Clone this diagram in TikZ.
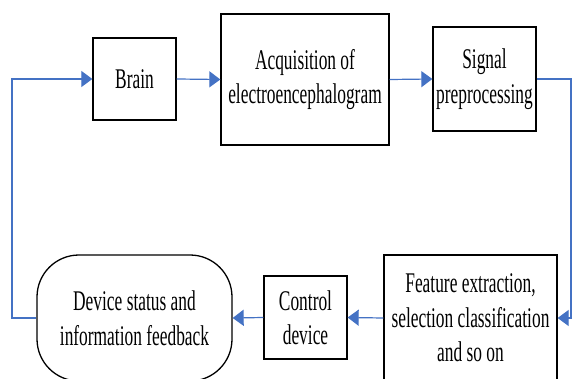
\documentclass[tikz,border=0pt]{standalone}
\usepackage{fontspec}
\newfontfamily\cfont[FakeStretch=0.61]{Liberation Serif}
\usetikzlibrary{arrows.meta}
\definecolor{lineblue}{HTML}{4472C4}
\begin{document}
\begin{tikzpicture}[x=1pt,y=-1pt,
  box/.style={draw=black,line width=1.3pt,inner sep=0pt,align=center,
    font=\cfont\fontsize{28.5pt}{34.5pt}\selectfont},
  conn/.style={draw=lineblue,line width=1.2pt,
    -{Triangle[length=11pt,width=16pt]}}]
\useasboundingbox (0,0) rectangle (572,379);
\begin{scope}
\clip (0,0) rectangle (572,379);
\node[box,minimum width=83pt,minimum height=82pt] (brain) at (134.5,79) {Brain};
\node[box,minimum width=168pt,minimum height=131pt] (acq) at (305,79.5) {Acquisition of\\electroencephalogram};
\node[box,minimum width=103pt,minimum height=104pt] (sig) at (484.5,79) {Signal\\preprocessing};
\node[box,minimum width=173pt,minimum height=126pt] (feat) at (470.5,318) {Feature extraction,\\selection classification\\and so on};
\node[box,minimum width=83pt,minimum height=83pt] (ctrl) at (305.5,317.5) {Control\\device};
\node[box,rounded corners=42pt,minimum width=195pt,minimum height=126pt] (dev) at (134.5,318) {Device status and\\information feedback};
\coordinate (r1) at (571,79);
\coordinate (r2) at (571,318);
\coordinate (l1) at (12,318);
\coordinate (l2) at (12,79);
\draw[conn] (brain.east) -- (acq.west);
\draw[conn] (acq.east) -- (sig.west);
\draw[conn] (sig.east) -- (r1) -- (r2) -- (feat.east);
\draw[conn] (feat.west) -- (ctrl.east);
\draw[conn] (ctrl.west) -- (dev.east);
\draw[conn] (dev.west) -- (l1) -- (l2) -- (brain.west);
\end{scope}
\end{tikzpicture}
\end{document}
